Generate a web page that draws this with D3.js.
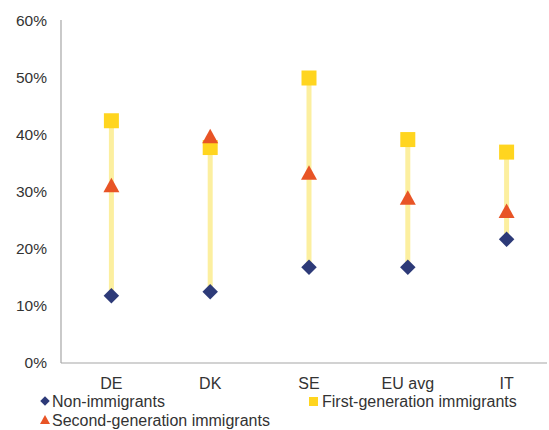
<!DOCTYPE html>
<html>
<head>
<meta charset="utf-8">
<script src="https://cdn.jsdelivr.net/npm/d3@7"></script>
<style>
  html, body { margin: 0; padding: 0; background: #fff; }
  svg { display: block; font-family: "Liberation Sans", Arial, sans-serif; }
</style>
</head>
<body>
<svg id="chart" width="549" height="430"></svg>
<script>
// Share of each group, by country (percent)
const categories = ["DE", "DK", "SE", "EU avg", "IT"];
const nonImmigrants = [11.8, 12.5, 16.8, 16.8, 21.7];
const firstGeneration = [42.5, 37.8, 50.0, 39.2, 37.0];
const secondGeneration = [31.0, 39.6, 33.2, 28.8, 26.5];
const yTicks = [0, 10, 20, 30, 40, 50, 60];

(function () {
const svg = d3.select("#chart");
const plotLeft = 61, plotRight = 547, plotTop = 21, plotBottom = 363;

const x = d3.scaleBand().domain(categories).range([62, 556]);
const y = d3.scaleLinear().domain([0, 60]).range([plotBottom, plotTop]);

const colNon = "#2d3a78", colFirst = "#ffd51f", colSecond = "#e85426", colLine = "#fcef9f";
const textCol = "#333333";

// Axes lines
svg.append("line").attr("x1", plotLeft).attr("x2", plotLeft).attr("y1", plotTop - 1).attr("y2", plotBottom)
  .attr("stroke", "#a6a6a6").attr("stroke-width", 1.2);
svg.append("line").attr("x1", plotLeft).attr("x2", plotRight).attr("y1", plotBottom).attr("y2", plotBottom)
  .attr("stroke", "#a6a6a6").attr("stroke-width", 1.2);

// Y tick labels
svg.append("g").selectAll("text").data(yTicks).join("text")
  .attr("x", 47).attr("y", d => y(d)).attr("dy", "0.35em")
  .attr("text-anchor", "end").attr("font-size", 15.5).attr("fill", textCol)
  .text(d => d + "%");

// X labels
svg.append("g").selectAll("text").data(categories).join("text")
  .attr("x", d => x(d) + x.bandwidth() / 2).attr("y", 389)
  .attr("text-anchor", "middle").attr("font-size", 16).attr("fill", textCol)
  .text(d => d);

const cx = i => x(categories[i]) + x.bandwidth() / 2;

// Range lines between non-immigrants and first generation
svg.append("g").selectAll("line").data(categories).join("line")
  .attr("x1", (d, i) => cx(i)).attr("x2", (d, i) => cx(i))
  .attr("y1", (d, i) => y(nonImmigrants[i])).attr("y2", (d, i) => y(firstGeneration[i]))
  .attr("stroke", colLine).attr("stroke-width", 5);

const diamond = d3.symbol().type(d3.symbolSquare).size(120)();
const square = d3.symbol().type(d3.symbolSquare).size(225)();
const triangle = "M0,-8.5L8,6L-8,6Z";

svg.append("g").selectAll("path").data(nonImmigrants).join("path")
  .attr("d", diamond).attr("fill", colNon)
  .attr("transform", (d, i) => `translate(${cx(i)},${y(d)}) rotate(45)`);
svg.append("g").selectAll("path").data(firstGeneration).join("path")
  .attr("d", square).attr("fill", colFirst)
  .attr("transform", (d, i) => `translate(${cx(i)},${y(d)})`);
svg.append("g").selectAll("path").data(secondGeneration).join("path")
  .attr("d", triangle).attr("fill", colSecond)
  .attr("transform", (d, i) => `translate(${cx(i)},${y(d)})`);

// Legend
const leg = svg.append("g").attr("font-size", 16).attr("fill", textCol);
leg.append("path").attr("d", d3.symbol().type(d3.symbolSquare).size(45)())
  .attr("fill", colNon).attr("transform", "translate(45,401) rotate(45)");
leg.append("text").attr("x", 52).attr("y", 401).attr("dy", "0.35em").text("Non-immigrants");
leg.append("rect").attr("x", 309).attr("y", 397).attr("width", 9).attr("height", 9).attr("fill", colFirst);
leg.append("text").attr("x", 322).attr("y", 401).attr("dy", "0.35em").text("First-generation immigrants");
leg.append("path").attr("d", "M0,-5L5,4L-5,4Z").attr("fill", colSecond).attr("transform", "translate(45,420)");
leg.append("text").attr("x", 52).attr("y", 420).attr("dy", "0.35em").text("Second-generation immigrants");
})();
</script>
</body>
</html>
